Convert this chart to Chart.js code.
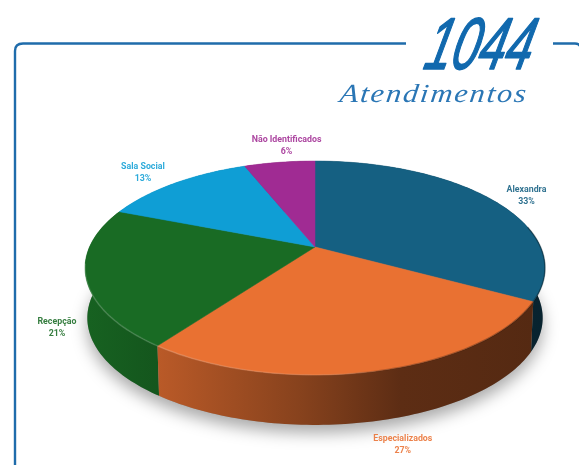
<!DOCTYPE html>
<html><head><meta charset="utf-8">
<style>html,body{margin:0;padding:0;background:#fff;overflow:hidden}canvas{display:block}</style>
<script src="https://cdn.jsdelivr.net/npm/chart.js@4"></script>
</head><body><canvas id="c" width="579" height="465"></canvas>
<script>
const categories = ["Alexandra","Especializados","Recepção","Sala Social","Não Identificados"];
const percentValues = [33,27,21,13,6];
const sliceColors = ["#156082","#E97132","#196B24","#0F9ED5","#A02B93"];
const totalLabel = "1044";
const subtitleLabel = "Atendimentos";

const PERSP = 0.196, SQUASH = 0.456, DROP = 14.5, DEPTH = 50, BOTTOM_X = 0.99;
function project(a, ang, k){
  k = k === undefined ? 1 : k;
  const u = Math.cos(ang)*k, v = Math.sin(ang)*k, d = 1 - PERSP*v, R = a.outerRadius;
  return {x: a.x + R*u/d, y: a.y + DROP + SQUASH*R*v/d};
}
function lower(a, p){ return {x: a.x + (p.x-a.x)*BOTTOM_X, y: p.y + DEPTH}; }
function rimPoints(a, s, e){
  const n = Math.max(2, Math.ceil((e-s)/0.02)), pts = [];
  for(let i=0;i<=n;i++) pts.push(project(a, s+(e-s)*i/n));
  return pts;
}
// top face drawn through the library's arc element, in perspective
Chart.ArcElement.prototype.draw = function(ctx){
  const pts = rimPoints(this, this.startAngle, this.endAngle);
  const c = project(this, 0, 0);
  ctx.save();
  ctx.beginPath(); ctx.moveTo(c.x, c.y);
  pts.forEach(p=>ctx.lineTo(p.x,p.y));
  ctx.closePath();
  ctx.fillStyle = this.options.backgroundColor;
  ctx.fill();
  ctx.strokeStyle = this.options.backgroundColor; ctx.lineWidth = 0.5; ctx.stroke();
  ctx.restore();
};
function mix(hex, f){
  const n = parseInt(hex.slice(1),16), r=n>>16, g=(n>>8)&255, b=n&255;
  return `rgb(${Math.round(r*f)},${Math.round(g*f)},${Math.round(b*f)})`;
}
const wallPlugin = {
  id:'wall',
  beforeDatasetsDraw(chart){
    const ctx = chart.ctx, arcs = chart.getDatasetMeta(0).data;
    const a0 = arcs[0];
    // soft ground shadow
    ctx.save();
    ctx.shadowColor='rgba(0,0,0,0.34)'; ctx.shadowBlur=16; ctx.shadowOffsetY=8;
    ctx.fillStyle='#999'; ctx.beginPath();
    rimPoints(a0,0,Math.PI*2).forEach((p,i)=>{const q=lower(a0,p); i?ctx.lineTo(q.x,q.y):ctx.moveTo(q.x,q.y);});
    ctx.closePath(); ctx.fill(); ctx.restore();
    // outer wall, far slices first
    [3,4,0,2,1].forEach(i=>{
      const a = arcs[i], col = sliceColors[i], top = rimPoints(a,a.startAngle,a.endAngle);
      const g = ctx.createLinearGradient(85,0,545,0);
      g.addColorStop(0, mix(col,0.92));
      g.addColorStop(0.157, mix(col,0.80));
      g.addColorStop(0.467, mix(col,0.58));
      g.addColorStop(0.685, mix(col,0.40));
      g.addColorStop(1, mix(col,0.36));
      ctx.beginPath();
      top.forEach((p,j)=>j?ctx.lineTo(p.x,p.y):ctx.moveTo(p.x,p.y));
      top.slice().reverse().forEach(p=>{const q=lower(a,p); ctx.lineTo(q.x,q.y);});
      ctx.closePath(); ctx.fillStyle=g; ctx.fill();
    });
  },
  afterDatasetsDraw(chart){
    const ctx = chart.ctx, arcs = chart.getDatasetMeta(0).data;
    // bevel highlight along the front edge of the top face only
    arcs.forEach((a,i)=>{
      const s = Math.max(a.startAngle, -0.2), e = Math.min(a.endAngle, Math.PI*0.95);
      if(e <= s) return;
      const top = rimPoints(a,s,e);
      const g = ctx.createLinearGradient(120,0,540,0);
      g.addColorStop(0,'rgba(255,255,255,0.16)');
      g.addColorStop(0.5,'rgba(255,255,255,0.08)');
      g.addColorStop(0.62,'rgba(0,0,0,0.20)');
      g.addColorStop(1,'rgba(0,0,0,0.30)');
      ctx.save();
      ctx.beginPath(); top.forEach((p,j)=>j?ctx.lineTo(p.x,p.y):ctx.moveTo(p.x,p.y));
      ctx.strokeStyle=g; ctx.lineWidth=1.6; ctx.filter='blur(0.6px)';
      ctx.stroke();
      ctx.restore();
    });
  }
};
const labelPlugin = {
  id:'labels',
  afterDraw(chart){
    const ctx = chart.ctx, arcs = chart.getDatasetMeta(0).data;
    const nudges = [[35,-4],[27,74],[-29,50],[-32,-10],[7,-16]]; // label offset from rim midpoint
    ctx.save();
    ctx.font='700 8.8px Roboto'; ctx.textAlign='center'; ctx.textBaseline='middle';
    arcs.forEach((a,i)=>{
      const p = project(a,(a.startAngle+a.endAngle)/2);
      const x = p.x+nudges[i][0], y = p.y+nudges[i][1];
      ctx.fillStyle = sliceColors[i];
      ctx.globalAlpha = 0.88;
      ctx.fillText(categories[i], x, y-6);
      ctx.fillText(percentValues[i]+'%', x, y+6);
    });
    ctx.restore();
  }
};
const framePlugin = {
  id:'frame',
  beforeDraw(chart){
    const ctx = chart.ctx;
    ctx.save();
    ctx.strokeStyle='#1f6cab'; ctx.lineWidth=2.4; ctx.lineCap='butt';
    ctx.beginPath();
    ctx.moveTo(15,465); ctx.lineTo(15,51); ctx.quadraticCurveTo(15,43.5,23,43.5); ctx.lineTo(406,43.5);
    ctx.stroke();
    ctx.beginPath(); ctx.moveTo(553,43.5); ctx.lineTo(575,43.5); ctx.quadraticCurveTo(579,43.5,580,46); ctx.stroke();
    ctx.restore();
    ctx.save();
    ctx.fillStyle='#1169ae'; ctx.strokeStyle='#1169ae'; ctx.lineWidth=1.3; ctx.lineJoin='round';
    ctx.textBaseline='alphabetic'; ctx.textAlign='left';
    ctx.font='italic 400 60px "Liberation Sans"';
    ctx.translate(422,69);
    ctx.transform(0.8,0,-0.3,1.22,0,0);
    ctx.fillText(totalLabel, 0, 0);
    ctx.strokeText(totalLabel, 0, 0);
    ctx.restore();
    ctx.save();
    ctx.fillStyle='#2a76b5'; ctx.textBaseline='alphabetic'; ctx.textAlign='left';
    ctx.font='italic 400 26px "Liberation Serif"';
    ctx.translate(339,102);
    ctx.transform(1.17,0,-0.12,1,0,0);
    ctx.letterSpacing='1.6px';
    ctx.fillText(subtitleLabel, 0, 0);
    ctx.restore();
  }
};
new Chart(document.getElementById('c'),{
  type:'pie',
  data:{labels:categories,datasets:[{data:percentValues,backgroundColor:sliceColors,borderWidth:0}]},
  options:{
    responsive:false,animation:false,
    layout:{padding:{left:89.5,right:38.5,top:7,bottom:7}},
    plugins:{legend:{display:false},tooltip:{enabled:false}},
    events:[]
  },
  plugins:[framePlugin,wallPlugin,labelPlugin]
});
</script></body></html>
